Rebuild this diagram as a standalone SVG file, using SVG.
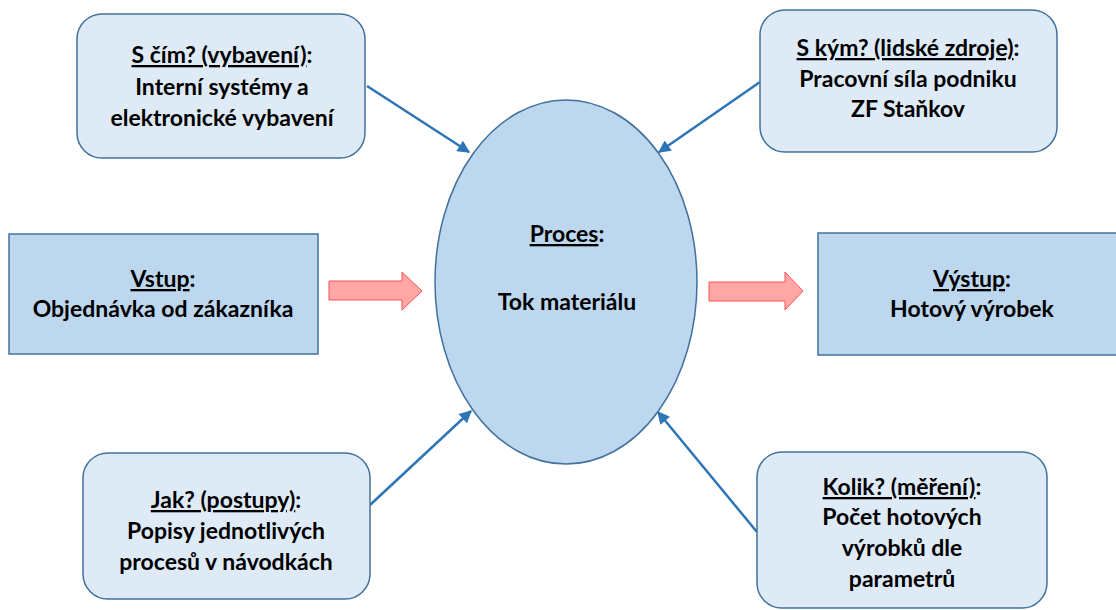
<svg xmlns="http://www.w3.org/2000/svg" width="1116" height="610" viewBox="0 0 1116 610">
<defs>
<style>
.rbox{fill:#DEEBF7;stroke:#41719C;stroke-width:1.5}
.box{fill:#BDD7EE;stroke:#41719C;stroke-width:1.5}
.t{font-family:Lato,"Liberation Sans",sans-serif;font-weight:bold;font-size:23px;fill:#000;text-anchor:middle}
.u{text-decoration:underline}
.conn{stroke:#2E75B6;stroke-width:2.5;fill:none}
.block{fill:#FFA7A7;stroke:#FF5050;stroke-width:1}
</style>
<marker id="ah" viewBox="0 0 10 10" refX="9" refY="5" markerWidth="6" markerHeight="5" orient="auto" markerUnits="strokeWidth">
<path d="M0,0 L10,5 L0,10 z" fill="#2E75B6"/>
</marker>
</defs>
<rect width="1116" height="610" fill="#fff"/>
<g id="connectors">
<line class="conn" x1="367" y1="86" x2="469" y2="152" marker-end="url(#ah)"/>
<line class="conn" x1="760" y1="82" x2="659" y2="152" marker-end="url(#ah)"/>
<line class="conn" x1="370" y1="505" x2="471" y2="411" marker-end="url(#ah)"/>
<line class="conn" x1="757" y1="532" x2="658" y2="412" marker-end="url(#ah)"/>
<path class="block" d="M329,281 H402 V272 L422,291 L402,310 V300 H329 Z"/>
<path class="block" d="M709,282 H785 V272 L803,291 L785,310 V301 H709 Z"/>
</g>
<g id="process">
<ellipse class="box" cx="566" cy="282" rx="131" ry="182"/>
<text class="t" x="567" y="242"><tspan class="u">Proces</tspan>:</text>
<text class="t" x="567" y="310">Tok materiálu</text>
</g>
<g id="s-cim">
<rect class="rbox" x="77" y="14" width="288" height="144" rx="25"/>
<text class="t" x="222" y="63"><tspan class="u">S čím? (vybavení)</tspan>:</text>
<text class="t" x="222" y="95">Interní systémy a</text>
<text class="t" x="222" y="126">elektronické vybavení</text>
</g>
<g id="s-kym">
<rect class="rbox" x="760" y="10" width="297" height="142" rx="25"/>
<text class="t" x="908" y="56"><tspan class="u">S kým? (lidské zdroje)</tspan>:</text>
<text class="t" x="908" y="87">Pracovní síla podniku</text>
<text class="t" x="908" y="117">ZF Staňkov</text>
</g>
<g id="vstup">
<rect class="box" x="9" y="234" width="309" height="120"/>
<text class="t" x="163" y="287"><tspan class="u">Vstup</tspan>:</text>
<text class="t" x="163" y="317">Objednávka od zákazníka</text>
</g>
<g id="vystup">
<rect class="box" x="818" y="233" width="310" height="122"/>
<text class="t" x="972" y="287"><tspan class="u">Výstup</tspan>:</text>
<text class="t" x="972" y="317">Hotový výrobek</text>
</g>
<g id="jak">
<rect class="rbox" x="83" y="453" width="287" height="146" rx="25"/>
<text class="t" x="226" y="508"><tspan class="u">Jak? (postupy)</tspan>:</text>
<text class="t" x="226" y="539">Popisy jednotlivých</text>
<text class="t" x="226" y="570">procesů v návodkách</text>
</g>
<g id="kolik">
<rect class="rbox" x="757" y="452" width="290" height="156" rx="25"/>
<text class="t" x="902" y="495"><tspan class="u">Kolik? (měření)</tspan>:</text>
<text class="t" x="902" y="525">Počet hotových</text>
<text class="t" x="902" y="556">výrobků dle</text>
<text class="t" x="902" y="587">parametrů</text>
</g>
</svg>
